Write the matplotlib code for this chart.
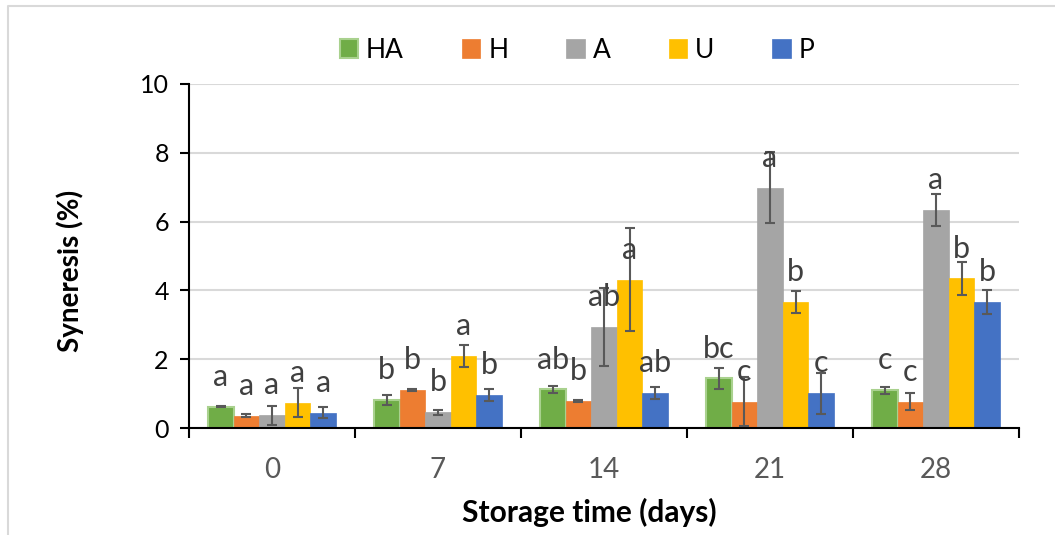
import numpy as np
import matplotlib
matplotlib.use('Agg')
import matplotlib.pyplot as plt
from matplotlib.lines import Line2D

plt.rcParams['font.family'] = ['Lato', 'DejaVu Sans']

# storage days and treatments
days = ['0', '7', '14', '21', '28']
series = ['HA', 'H', 'A', 'U', 'P']
colors = ['#70AD47', '#ED7D31', '#A5A5A5', '#FFC000', '#4472C4']

# mean syneresis (%) per treatment, one value per storage day
ha = [0.62, 0.81, 1.12, 1.44, 1.10]
h = [0.36, 1.10, 0.78, 0.77, 0.76]
a = [0.37, 0.46, 2.93, 6.99, 6.33]
u = [0.74, 2.09, 4.31, 3.66, 4.35]
p = [0.45, 0.95, 1.01, 1.01, 3.67]

# standard deviations
ha_err = [0.02, 0.14, 0.09, 0.31, 0.10]
h_err = [0.04, 0.03, 0.03, 0.70, 0.25]
a_err = [0.27, 0.07, 1.13, 1.03, 0.47]
u_err = [0.41, 0.33, 1.50, 0.33, 0.48]
p_err = [0.17, 0.17, 0.17, 0.59, 0.35]

# significance letters
ha_let = ['a', 'b', 'ab', 'bc', 'c']
h_let = ['a', 'b', 'b', 'c', 'c']
a_let = ['a', 'b', 'ab', 'a', 'a']
u_let = ['a', 'a', 'a', 'b', 'b']
p_let = ['a', 'b', 'ab', 'c', 'b']

values = [ha, h, a, u, p]
errors = [ha_err, h_err, a_err, u_err, p_err]
letters = [ha_let, h_let, a_let, u_let, p_let]

fig = plt.figure(figsize=(10.55, 5.35), dpi=100)
ax = fig.add_axes([189 / 1055, 0.2, (1019 - 189) / 1055, 0.643])

x = np.arange(len(days))
width = 0.154

for i, name in enumerate(series):
    pos = x + (i - 2) * width
    edge = '#A9D18E' if name == 'HA' else colors[i]
    lw = 1.5 if name == 'HA' else 0.5
    ax.bar(pos, values[i], width, color=colors[i], edgecolor=edge, linewidth=lw,
           label=name, zorder=2)
    ax.errorbar(pos, values[i], yerr=errors[i], fmt='none', ecolor='#595959',
                elinewidth=1.5, capsize=3.7, capthick=1.5, zorder=3)
    for xp, v, t in zip(pos, values[i], letters[i]):
        ax.annotate(t, (xp, v), xytext=(0, 15), textcoords='offset points',
                    ha='center', va='baseline', fontsize=22, color='#404040', zorder=4)

ax.set_xlim(-0.5, 4.5)
ax.set_ylim(0, 10)
ax.set_yticks([0, 2, 4, 6, 8, 10])
ax.yaxis.grid(True, color='#D9D9D9', linewidth=1.5, zorder=0)
ax.set_axisbelow(True)

ax.set_xticks(x)
ax.set_xticklabels(days)
ax.set_xticks(np.arange(-0.5, 5, 1), minor=True)
ax.tick_params(axis='x', which='major', length=0, pad=21, labelsize=20, labelcolor='#595959')
ax.tick_params(axis='x', which='minor', length=7, width=1.5, color='black')
ax.tick_params(axis='y', length=6.5, width=1.5, color='black', pad=8, labelsize=18,
               labelcolor='black')

for s in ['top', 'right']:
    ax.spines[s].set_visible(False)
for s in ['left', 'bottom']:
    ax.spines[s].set_linewidth(1.5)
    ax.spines[s].set_color('black')

fig.text(70 / 1055, 1 - 271 / 535, 'Syneresis (%)', rotation=90, ha='center', va='center',
         fontsize=20, fontweight='bold')
fig.text(589 / 1055, 1 - 512 / 535, 'Storage time (days)', ha='center', va='center',
         fontsize=21.5, fontweight='bold')

ax.legend(loc='center', bbox_to_anchor=(577 / 1055, 1 - 50 / 535), bbox_transform=fig.transFigure,
          ncol=5, frameon=False, fontsize=19, handlelength=0.7, handleheight=0.7,
          handletextpad=0.3, columnspacing=2.2)

# outer chart border (only the top and left edges are visible)
fig.add_artist(Line2D([8 / 1055, 8 / 1055, 1], [0, 1 - 6 / 535, 1 - 6 / 535],
                      transform=fig.transFigure, color='#D9D9D9', linewidth=1.5))

fig.savefig('out.png', dpi=100)
